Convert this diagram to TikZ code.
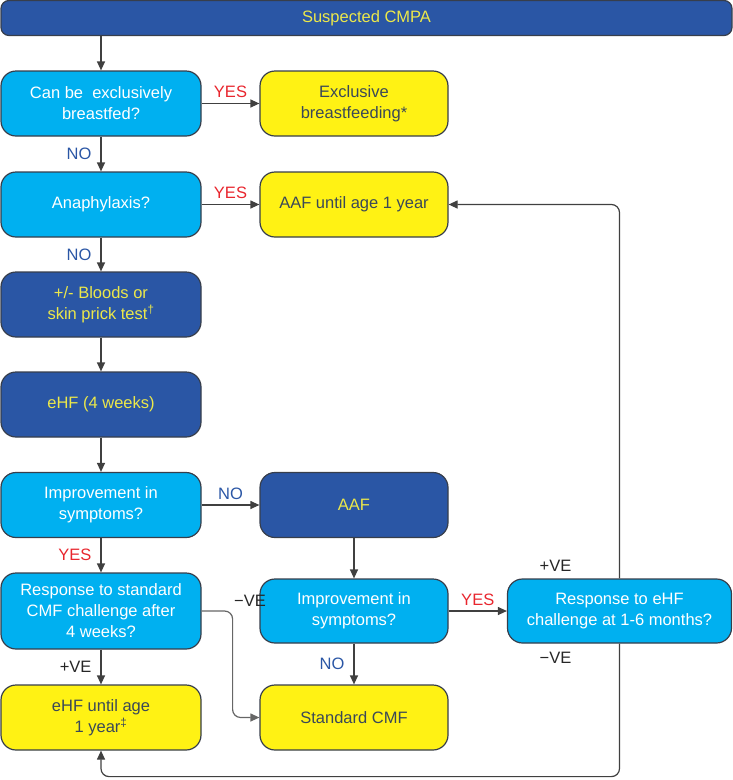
\documentclass[tikz,border=0pt]{standalone}
\usepackage{fontspec}
\setmainfont{Liberation Sans}
\usetikzlibrary{arrows.meta}
\definecolor{darkfill}{RGB}{42,86,165}
\definecolor{lightfill}{RGB}{0,176,240}
\definecolor{yellowfill}{RGB}{255,242,20}
\definecolor{darktext}{RGB}{236,232,74}
\definecolor{slatetext}{RGB}{58,72,88}
\definecolor{edgegray}{RGB}{55,62,75}
\definecolor{linegray}{RGB}{64,64,64}
\definecolor{yesred}{RGB}{232,38,46}
\definecolor{noblue}{RGB}{42,86,165}
\begin{document}
\begin{tikzpicture}[x=1pt, y=-1pt,
		every node/.style={text centered, font=\fontsize{16.5}{21}\selectfont},
		box/.style={rectangle, rounded corners=15pt, draw=edgegray, line width=1.2pt,
			minimum width=200pt, minimum height=65pt, inner sep=0pt, align=center},
		darkbox/.style={box, fill=darkfill, text=darktext},
		askbox/.style={box, fill=lightfill, text=white},
		endbox/.style={box, fill=yellowfill, text=slatetext},
		lbl/.style={inner sep=1pt},
		yes/.style={lbl, text=yesred},
		no/.style={lbl, text=noblue},
		ve/.style={lbl, text=black!85},
		arr/.style={draw=linegray, line width=1.2pt, -{Triangle[length=9pt, width=8pt]}}]
	\useasboundingbox (0,0) rectangle (733,780);

	% top bar
	\node[darkbox, rounded corners=8pt, minimum width=731pt, minimum height=35pt] (top) at (366.5,18) {Suspected CMPA};

	% left column
	\node[askbox] (feed) at (101,103.5) {Can be~ exclusively\\breastfed?};
	\node[askbox] (ana) at (101,204.5) {Anaphylaxis?};
	\node[darkbox] (blood) at (101,304.5) {+/- Bloods or\\skin prick test\textsuperscript{†}};
	\node[darkbox] (ehf) at (101,404.5) {eHF (4 weeks)};
	\node[askbox] (imp1) at (101,505) {Improvement in\\symptoms?};
	\node[askbox, minimum height=76pt] (resp1) at (101,611) {Response to standard\\CMF challenge after\\4 weeks?};
	\node[endbox] (ehfyear) at (101,717.5) {eHF until age\\1 year\textsuperscript{‡}};

	% middle column
	\node[endbox, minimum width=188pt] (breast) at (354,103.5) {Exclusive\\breastfeeding*};
	\node[endbox, minimum width=188pt] (aafyear) at (354,204.5) {AAF until age 1 year};
	\node[darkbox, minimum width=188pt] (aaf) at (354,505) {AAF};
	\node[askbox, minimum width=188pt, minimum height=64pt] (imp2) at (354,611) {Improvement in\\symptoms?};
	\node[endbox, minimum width=188pt] (std) at (354,717.5) {Standard CMF};

	% right column
	\node[askbox, minimum width=224pt, minimum height=64pt] (resp2) at (619.5,611) {Response to eHF\\challenge at 1-6 months?};

	% connectors
	\draw[arr] (top.south -| feed.north) -- (feed.north);
	\draw[arr] (feed) -- node[yes, above=4pt] {YES} (breast);
	\draw[arr] (feed) -- node[no, left=8pt] {NO} (ana);
	\draw[arr] (ana) -- node[yes, above=4pt] {YES} (aafyear);
	\draw[arr] (ana) -- node[no, left=8pt] {NO} (blood);
	\draw[arr] (blood) -- (ehf);
	\draw[arr] (ehf) -- (imp1);
	\draw[arr] (imp1) -- node[no, above=4pt] {NO} (aaf);
	\draw[arr] (imp1) -- node[yes, left=8pt] {YES} (resp1);
	\draw[arr] (resp1) -- node[ve, left=8pt] {+VE} (ehfyear);
	\draw[arr, draw=linegray!80, rounded corners=8pt] (resp1.east) -- ++(31,0) node[ve, anchor=south west, yshift=3pt] {−VE} |- (std.west);
	\draw[arr] (aaf) -- (imp2);
	\draw[arr] (imp2) -- node[no, left=8pt] {NO} (std);
	\draw[arr] (imp2) -- node[yes, above=4pt] {YES} (resp2);
	\draw[arr, rounded corners=8pt] (resp2.north) |- (aafyear.east);
	\draw[arr, rounded corners=8pt] (resp2.south) -- ++(0,133) -| (ehfyear.south);
	\path (resp2.north) ++(-64,-13) node[ve] {+VE};
	\path (resp2.south) ++(-64,14) node[ve] {−VE};
\end{tikzpicture}
\end{document}
